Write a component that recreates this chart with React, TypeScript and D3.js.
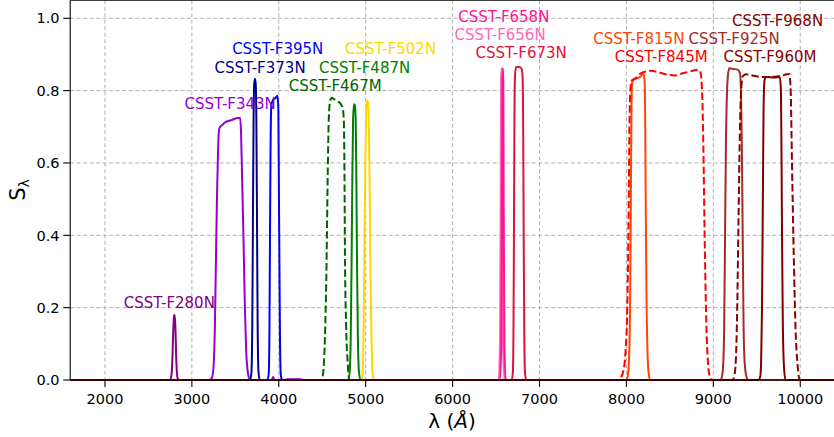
import React from 'react';
import * as d3 from 'd3';

type Pt = [number, number];

// Axis ticks
const xTicks = [2000, 3000, 4000, 5000, 6000, 7000, 8000, 9000, 10000];
const yTicks = [0, 0.2, 0.4, 0.6, 0.8, 1.0];

// Throughput curves: [wavelength (Å), S]
const F280N: Pt[] = [[2750, 0], [2763, 0.01], [2775, 0.05], [2785, 0.13], [2795, 0.178], [2802, 0.18], [2810, 0.15], [2820, 0.06], [2832, 0.01], [2845, 0]];
const F343N: Pt[] = [[3200, 0], [3230, 0.005], [3250, 0.04], [3265, 0.15], [3277, 0.33], [3290, 0.52], [3302, 0.64], [3312, 0.69], [3325, 0.7], [3350, 0.705], [3380, 0.712], [3450, 0.718], [3530, 0.724], [3555, 0.724], [3565, 0.69], [3578, 0.56], [3595, 0.38], [3610, 0.2], [3625, 0.08], [3645, 0.02], [3665, 0.003], [3690, 0], [3920, 0], [3935, 0.008], [3950, 0], [4060, 0], [4100, 0.002], [4250, 0.002], [4300, 0]];
const F373N: Pt[] = [[3670, 0], [3685, 0.02], [3695, 0.15], [3702, 0.42], [3710, 0.72], [3718, 0.82], [3726, 0.833], [3734, 0.82], [3742, 0.72], [3750, 0.42], [3757, 0.15], [3767, 0.02], [3782, 0]];
const F395N: Pt[] = [[3870, 0], [3885, 0.02], [3893, 0.15], [3899, 0.4], [3906, 0.66], [3915, 0.76], [3930, 0.773], [3960, 0.779], [3985, 0.786], [3995, 0.75], [4002, 0.5], [4008, 0.3], [4015, 0.09], [4025, 0.01], [4040, 0]];
const F467M: Pt[] = [[4490, 0], [4505, 0.01], [4520, 0.05], [4535, 0.15], [4550, 0.33], [4562, 0.55], [4575, 0.72], [4590, 0.77], [4610, 0.78], [4640, 0.776], [4680, 0.77], [4710, 0.764], [4735, 0.752], [4748, 0.72], [4755, 0.6], [4762, 0.33], [4775, 0.15], [4795, 0.04], [4812, 0]];
const F487N: Pt[] = [[4800, 0], [4815, 0.02], [4828, 0.12], [4838, 0.33], [4846, 0.55], [4855, 0.72], [4865, 0.762], [4875, 0.76], [4885, 0.72], [4893, 0.55], [4900, 0.33], [4910, 0.12], [4923, 0.02], [4940, 0]];
const F502N: Pt[] = [[4950, 0], [4965, 0.02], [4975, 0.12], [4985, 0.35], [4995, 0.6], [5005, 0.74], [5015, 0.772], [5025, 0.77], [5035, 0.72], [5045, 0.55], [5055, 0.3], [5068, 0.1], [5080, 0.02], [5095, 0]];
const F656N: Pt[] = [[6530, 0], [6545, 0.1], [6553, 0.5], [6558, 0.83], [6563, 0.862], [6568, 0.83], [6573, 0.5], [6581, 0.1], [6596, 0]];
const F658N: Pt[] = [[6545, 0], [6560, 0.1], [6568, 0.5], [6573, 0.83], [6578, 0.862], [6583, 0.83], [6588, 0.5], [6596, 0.1], [6611, 0]];
const F673N: Pt[] = [[6680, 0], [6693, 0.02], [6700, 0.12], [6706, 0.4], [6711, 0.7], [6718, 0.84], [6730, 0.865], [6760, 0.865], [6790, 0.862], [6805, 0.84], [6812, 0.7], [6818, 0.4], [6825, 0.12], [6833, 0.02], [6848, 0]];
const F815N: Pt[] = [[8000, 0], [8015, 0.01], [8030, 0.06], [8042, 0.2], [8050, 0.45], [8057, 0.72], [8065, 0.82], [8080, 0.832], [8120, 0.835], [8160, 0.838], [8195, 0.845], [8208, 0.83], [8215, 0.75], [8222, 0.5], [8230, 0.25], [8240, 0.1], [8255, 0.02], [8275, 0]];
const F845M: Pt[] = [[7900, 0], [7930, 0.005], [7960, 0.02], [7990, 0.08], [8010, 0.2], [8025, 0.45], [8035, 0.7], [8045, 0.8], [8060, 0.828], [8100, 0.832], [8150, 0.845], [8220, 0.853], [8280, 0.855], [8350, 0.852], [8450, 0.845], [8560, 0.842], [8650, 0.848], [8750, 0.854], [8820, 0.858], [8850, 0.852], [8870, 0.8], [8885, 0.65], [8900, 0.4], [8915, 0.2], [8935, 0.06], [8960, 0.01], [8990, 0]];
const F925N: Pt[] = [[9080, 0], [9100, 0.01], [9115, 0.05], [9125, 0.15], [9135, 0.4], [9145, 0.65], [9158, 0.8], [9172, 0.85], [9185, 0.862], [9230, 0.86], [9280, 0.858], [9305, 0.85], [9318, 0.8], [9328, 0.65], [9338, 0.4], [9348, 0.15], [9360, 0.05], [9380, 0.01], [9400, 0]];
const F960M: Pt[] = [[9220, 0], [9240, 0.01], [9260, 0.06], [9275, 0.2], [9290, 0.45], [9305, 0.68], [9320, 0.8], [9340, 0.84], [9380, 0.845], [9450, 0.842], [9550, 0.838], [9650, 0.838], [9750, 0.84], [9850, 0.845], [9875, 0.846], [9890, 0.8], [9905, 0.6], [9925, 0.35], [9945, 0.15], [9970, 0.04], [9995, 0]];
const F968N: Pt[] = [[9520, 0], [9540, 0.01], [9550, 0.05], [9560, 0.2], [9570, 0.5], [9578, 0.75], [9590, 0.83], [9610, 0.838], [9700, 0.836], [9765, 0.838], [9778, 0.8], [9785, 0.6], [9792, 0.35], [9800, 0.15], [9812, 0.04], [9830, 0]];

// Labels: name, anchor wavelength, anchor S (text baseline)
const labelNames = ['CSST-F280N', 'CSST-F343N', 'CSST-F373N', 'CSST-F395N', 'CSST-F467M', 'CSST-F487N', 'CSST-F502N', 'CSST-F656N', 'CSST-F658N', 'CSST-F673N', 'CSST-F815N', 'CSST-F845M', 'CSST-F925N', 'CSST-F960M', 'CSST-F968N'];
const labelWave = [2740, 3441, 3784, 3988, 4649, 4988, 5286, 6546, 6589, 6789, 8142, 8400, 9240, 9652, 9739];
const labelS = [0.199, 0.75, 0.85, 0.9, 0.8, 0.85, 0.9, 0.94, 0.99, 0.89, 0.93, 0.88, 0.93, 0.88, 0.98];

// Styles per filter (same order as labels)
const curves: Pt[][] = [F280N, F343N, F373N, F395N, F467M, F487N, F502N, F656N, F658N, F673N, F815N, F845M, F925N, F960M, F968N];
const colors = ['#800080', '#9400D3', '#00008B', '#0000FF', '#006400', '#008000', '#FFD700', '#FF69B4', '#FF1493', '#DC143C', '#FF4500', '#FF0000', '#A52A2A', '#8B0000', '#800000'];
const dashed = [false, false, false, false, true, false, false, false, false, false, false, true, false, true, false];

export default function App() {
  const W = 834, H = 437;
  const left = 70.2, right = 835, top = 0.2, bottom = 380;
  const x = d3.scaleLinear().domain([1600, 10400]).range([left, right]);
  const y = d3.scaleLinear().domain([0, 1.05]).range([bottom, top]);
  const line = d3.line<Pt>().x(d => x(d[0])).y(d => y(d[1])).curve(d3.curveMonotoneX);
  const font = '"DejaVu Sans", sans-serif';

  return (
    <svg width={W} height={H} style={{ position: 'absolute', left: 0, top: 0, background: '#fff' }} fontFamily={font}>
      <defs>
        <clipPath id="plotClip">
          <rect x={left} y={top - 1} width={right - left} height={bottom - top + 2} />
        </clipPath>
      </defs>
      <rect x={0} y={0} width={W} height={H} fill="#fff" />
      {/* grid */}
      <g stroke="#b0b0b0" strokeWidth={1} strokeDasharray="4,2.5">
        {xTicks.map(t => <line key={'gx' + t} x1={x(t)} x2={x(t)} y1={top} y2={bottom} />)}
        {yTicks.map(t => <line key={'gy' + t} x1={left} x2={right} y1={y(t)} y2={y(t)} />)}
      </g>
      {/* curves */}
      <g clipPath="url(#plotClip)" fill="none">
        {curves.map((c, i) => {
          const full: Pt[] = [[1000, 0], ...c, [11000, 0]];
          return (
            <path key={'c' + i} d={line(full) || ''} stroke={colors[i]} strokeWidth={2}
              strokeDasharray={dashed[i] ? '7.4,3.2' : undefined} strokeLinejoin="round" />
          );
        })}
      </g>
      {/* spines */}
      <g stroke="#000" strokeWidth={1.1} fill="none">
        <line x1={left} x2={left} y1={top} y2={bottom} />
        <line x1={left} x2={right} y1={bottom} y2={bottom} />
        <line x1={left} x2={right} y1={top} y2={top} />
      </g>
      {/* x ticks */}
      <g>
        {xTicks.map(t => (
          <g key={'xt' + t}>
            <line x1={x(t)} x2={x(t)} y1={bottom} y2={bottom + 7} stroke="#000" strokeWidth={1.1} />
            <text x={x(t)} y={403.5} textAnchor="middle" fontSize={14.5} fill="#000">{t}</text>
          </g>
        ))}
      </g>
      {/* y ticks */}
      <g>
        {yTicks.map(t => (
          <g key={'yt' + t}>
            <line x1={left - 7} x2={left} y1={y(t)} y2={y(t)} stroke="#000" strokeWidth={1.1} />
            <text x={59.5} y={y(t) + 5.2} textAnchor="end" fontSize={14.5} fill="#000">{t.toFixed(1)}</text>
          </g>
        ))}
      </g>
      {/* axis labels */}
      <text x={452} y={428} textAnchor="middle" fontSize={20} fill="#000">
        λ (<tspan fontStyle="italic">Å</tspan>)
      </text>
      <text transform="translate(25,190) rotate(-90)" textAnchor="middle" fontSize={21} fill="#000">
        S<tspan dy={4} fontSize={14}>λ</tspan>
      </text>
      {/* filter labels */}
      <g>
        {labelNames.map((n, i) => (
          <text key={'l' + i} x={x(labelWave[i])} y={y(labelS[i])} textAnchor="middle" fontSize={15} fill={colors[i]}>{n}</text>
        ))}
      </g>
    </svg>
  );
}
